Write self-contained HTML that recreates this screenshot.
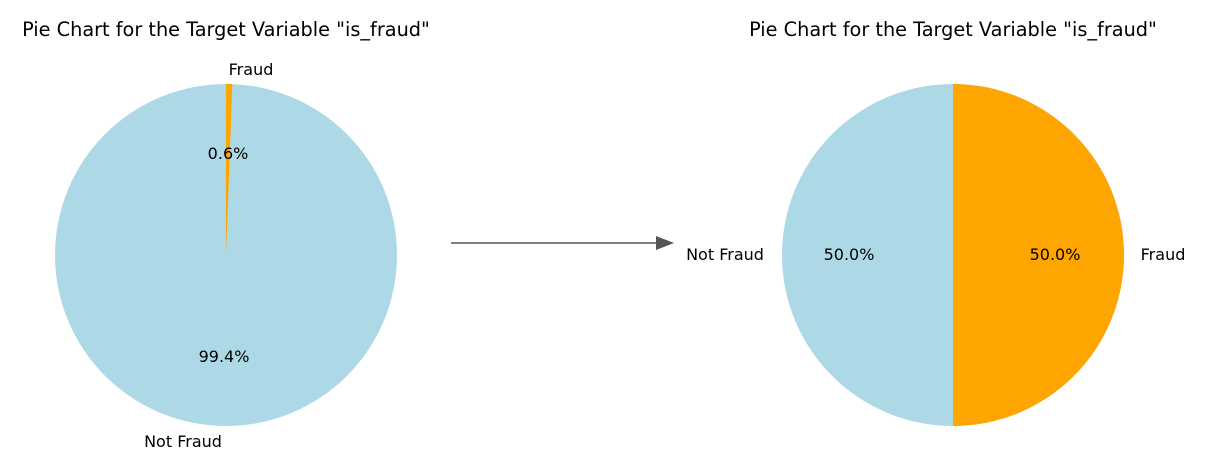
<!DOCTYPE html>
<html><head><meta charset="utf-8"><style>
html,body{margin:0;padding:0;background:#fff;}
svg{display:block;}
text{font-family:"DejaVu Sans","Liberation Sans",sans-serif;fill:#000;}
</style></head><body>
<svg width="1206" height="466" viewBox="0 0 1206 466" xmlns="http://www.w3.org/2000/svg">
<text x="226" y="36" font-size="19.3" text-anchor="middle">Pie Chart for the Target Variable "is_fraud"</text>
<text x="953" y="36" font-size="19.3" text-anchor="middle">Pie Chart for the Target Variable "is_fraud"</text>
<circle cx="226" cy="255" r="171" fill="#add8e6"/>
<path d="M226,255 L226,84 A171,171 0 0 1 232.4,84.1 Z" fill="#ffa500"/>
<text x="251" y="75" font-size="16" text-anchor="middle">Fraud</text>
<text x="228" y="159" font-size="16" text-anchor="middle">0.6%</text>
<text x="224" y="362" font-size="16" text-anchor="middle">99.4%</text>
<text x="183" y="447" font-size="16" text-anchor="middle">Not Fraud</text>
<line x1="451" y1="243" x2="658" y2="243" stroke="#555" stroke-width="1.6"/>
<path d="M656,236 L674,243 L656,250 Z" fill="#555"/>
<circle cx="953" cy="255" r="171" fill="#add8e6"/>
<path d="M953,84 A171,171 0 0 1 953,426 Z" fill="#ffa500"/>
<text x="725" y="260" font-size="16" text-anchor="middle">Not Fraud</text>
<text x="849" y="260" font-size="16" text-anchor="middle">50.0%</text>
<text x="1055" y="260" font-size="16" text-anchor="middle">50.0%</text>
<text x="1163" y="260" font-size="16" text-anchor="middle">Fraud</text>
</svg>
</body></html>
